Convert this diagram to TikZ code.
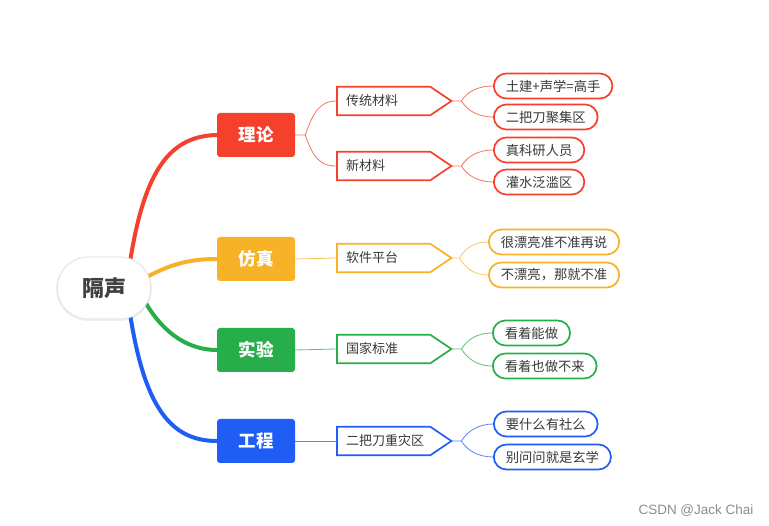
\documentclass[tikz,border=0pt]{standalone}
\usepackage{fontspec}
\setmainfont{Noto Sans CJK SC}
\newfontfamily\wmfont{Liberation Sans}
\usetikzlibrary{calc,backgrounds,shadows,shapes.misc}
\definecolor{lilunred}{HTML}{F5402C}
\definecolor{fangzhenyellow}{HTML}{F7B228}
\definecolor{shiyangreen}{HTML}{27AE4A}
\definecolor{gongchengblue}{HTML}{1F5DF5}
\tikzset{
  root/.style={shape=rounded rectangle, draw=black!10, line width=1pt, fill=white,
    minimum width=100pt, minimum height=62pt, text=black!75,
    font=\fontsize{22}{25}\selectfont\bfseries,
    drop shadow={opacity=0.12, shadow xshift=0pt, shadow yshift=-1pt, shadow scale=1.03}},
  topic/.style={fill=#1, rounded corners=3pt, minimum width=78pt, minimum height=44pt,
    text=white, font=\fontsize{17.5}{20}\selectfont\bfseries},
  tagbody/.style={anchor=west, minimum width=93pt, minimum height=28pt, inner xsep=9pt,
    text width=75pt, align=left, text=black!78, font=\fontsize{13}{15}\selectfont},
  leaf/.style={draw=#1, line width=1.7pt, fill=white, rounded corners=12.5pt, anchor=west,
    minimum height=25pt, inner xsep=12pt, text=black!78, font=\fontsize{13.3}{15}\selectfont},
  stem/.style={draw=#1, line width=4pt, line cap=round},
  twig/.style={draw=#1!75, line width=0.8pt},
}
% second level: box with a point on the right
\newcommand{\tagnode}[4]{%
  \node[tagbody] (#1) at (337,#3) {#4};
  \draw[#2, line width=1.7pt] (#1.north west) -- (#1.north east)
    -- ($(#1.east)+(21,0)$) coordinate (#1-tip) -- (#1.south east) -- (#1.south west) -- cycle;}
\begin{document}
\begin{tikzpicture}[x=1pt,y=-1pt]
\useasboundingbox (0,0) rectangle (769,526);
\node[root] (gesheng) at (104,288) {隔声};
% main topics
\node[topic=lilunred] (lilun) at (256,135) {理论};
\node[topic=fangzhenyellow] (fangzhen) at (256,259) {仿真};
\node[topic=shiyangreen] (shiyan) at (256,350) {实验};
\node[topic=gongchengblue] (gongcheng) at (256,441) {工程};
% second level
\tagnode{chuantong}{lilunred}{101}{传统材料}
\tagnode{xincailiao}{lilunred}{166}{新材料}
\tagnode{ruanjian}{fangzhenyellow}{258}{软件平台}
\tagnode{guojia}{shiyangreen}{349}{国家标准}
\tagnode{erbadao}{gongchengblue}{441}{二把刀重灾区}
% leaves
\node[leaf=lilunred] (tujian) at (493,86) {土建+声学=高手};
\node[leaf=lilunred] (juji) at (493,117) {二把刀聚集区};
\node[leaf=lilunred] (keyan) at (493,150) {真科研人员};
\node[leaf=lilunred] (guanshui) at (493,182) {灌水泛滥区};
\node[leaf=fangzhenyellow] (piaoliang) at (488,242) {很漂亮准不准再说};
\node[leaf=fangzhenyellow] (bupiaoliang) at (488,275) {不漂亮，那就不准};
\node[leaf=shiyangreen] (nengzuo) at (492,333) {看着能做};
\node[leaf=shiyangreen] (zuobulai) at (492,366) {看着也做不来};
\node[leaf=gongchengblue] (shenme) at (493,424) {要什么有社么};
\node[leaf=gongchengblue] (xuanxue) at (493,457) {别问问就是玄学};
% watermark
\node[text=black!45, font=\wmfont\fontsize{13.5}{15}\selectfont] (csdn) at (696,511) {CSDN @Jack Chai};
% connectors
\begin{scope}[on background layer]
\draw[stem=lilunred] (gesheng.48) .. controls (145,170) and (170,136) .. (lilun.west);
\draw[stem=fangzhenyellow] (gesheng.15) .. controls (175,262) and (195,259) .. (fangzhen.west);
\draw[stem=shiyangreen] (gesheng.-21) .. controls (165,335) and (190,350) .. (shiyan.west);
\draw[stem=gongchengblue] (gesheng.-48) .. controls (145,406) and (170,441) .. (gongcheng.west);
\end{scope}
\draw[twig=lilunred] (lilun.east) -- ++(10,0) coordinate (lilun-s)
  .. controls +(8,-22) and +(-18,0) .. (chuantong.west);
\draw[twig=lilunred] (lilun-s) .. controls +(8,22) and +(-18,0) .. (xincailiao.west);
\draw[twig=fangzhenyellow] (fangzhen.east) -- (ruanjian.west);
\draw[twig=shiyangreen] (shiyan.east) -- (guojia.west);
\draw[twig=gongchengblue] (gongcheng.east) -- (erbadao.west);
\draw[twig=lilunred] (chuantong-tip) -- ++(10,0) coordinate (chuantong-s)
  .. controls +(6,-10) and +(-14,0) .. (tujian.west);
\draw[twig=lilunred] (chuantong-s) .. controls +(6,10) and +(-14,0) .. (juji.west);
\draw[twig=lilunred] (xincailiao-tip) -- ++(10,0) coordinate (xincailiao-s)
  .. controls +(6,-10) and +(-14,0) .. (keyan.west);
\draw[twig=lilunred] (xincailiao-s) .. controls +(6,10) and +(-14,0) .. (guanshui.west);
\draw[twig=fangzhenyellow] (ruanjian-tip) -- ++(8,0) coordinate (ruanjian-s)
  .. controls +(6,-10) and +(-14,0) .. (piaoliang.west);
\draw[twig=fangzhenyellow] (ruanjian-s) .. controls +(6,10) and +(-14,0) .. (bupiaoliang.west);
\draw[twig=shiyangreen] (guojia-tip) -- ++(10,0) coordinate (guojia-s)
  .. controls +(6,-10) and +(-14,0) .. (nengzuo.west);
\draw[twig=shiyangreen] (guojia-s) .. controls +(6,10) and +(-14,0) .. (zuobulai.west);
\draw[twig=gongchengblue] (erbadao-tip) -- ++(10,0) coordinate (erbadao-s)
  .. controls +(6,-10) and +(-14,0) .. (shenme.west);
\draw[twig=gongchengblue] (erbadao-s) .. controls +(6,10) and +(-14,0) .. (xuanxue.west);
\end{tikzpicture}
\end{document}
